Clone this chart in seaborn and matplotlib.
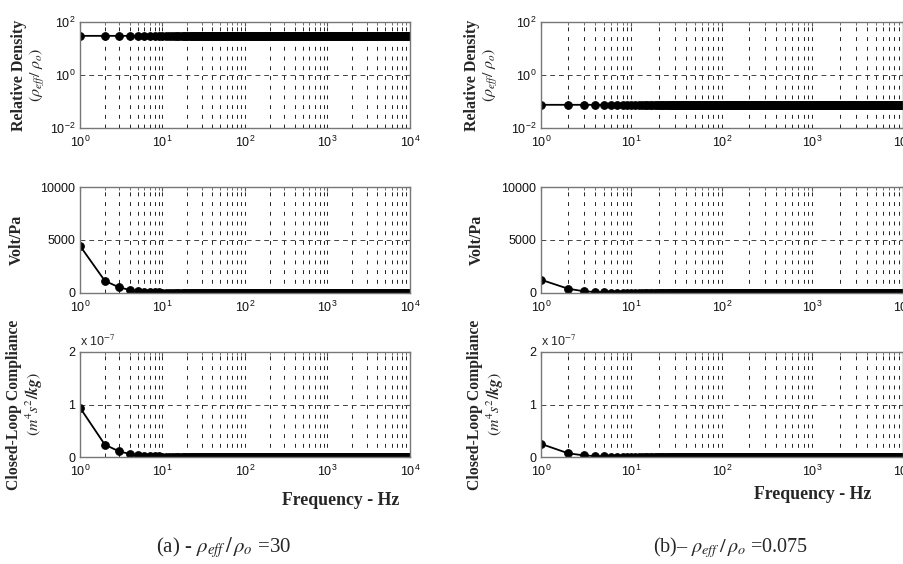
import numpy as np
import seaborn as sns
import matplotlib.pyplot as plt
from matplotlib.ticker import FixedLocator, NullLocator, NullFormatter, FuncFormatter, LogLocator

# frequency grid, 1 Hz steps
freq = np.arange(1, 10001)

# values read at f = 1..10 Hz; beyond that the curves sit on the floor
density_a = 30.0
density_b = 0.075
volt_a_head = [4450, 1150, 520, 300, 190, 130, 95, 70, 55, 45]
volt_b_head = [1250, 400, 160, 90, 55, 38, 28, 21, 17, 13]
comp_a_head = [0.94e-7, 0.235e-7, 0.105e-7, 0.06e-7, 0.038e-7,
               0.026e-7, 0.019e-7, 0.015e-7, 0.012e-7, 0.0094e-7]
comp_b_head = [0.25e-7, 0.07e-7, 0.03e-7, 0.016e-7, 0.01e-7,
               0.007e-7, 0.005e-7, 0.004e-7, 0.003e-7, 0.0025e-7]
tail_level = 0.0

captions = [r"(a) - $\rho_{eff}\,/\,\rho_{o}$ =30", r"(b)– $\rho_{eff}\,/\,\rho_{o}$ =0.075"]


def series(head, n):
    out = np.full(n, tail_level)
    out[:len(head)] = head
    return out


sns.set_style("white")
plt.rcParams['font.family'] = ['Liberation Sans Narrow', 'Liberation Sans', 'DejaVu Sans']
plt.rcParams['mathtext.fontset'] = 'stix'

W, H = 904, 564
fig = plt.figure(figsize=(W / 100, H / 100), dpi=100)

cols = [(80, 330), (541, 362)]
rows = [(22, 128), (187, 293), (352, 457)]

data = [
    [np.full(len(freq), density_a), series(volt_a_head, len(freq)), series(comp_a_head, len(freq))],
    [np.full(len(freq), density_b), series(volt_b_head, len(freq)), series(comp_b_head, len(freq))],
]

ylab_off = [[-33, -55, -36], [-41, -56, -36]]
serif = ['Liberation Serif', 'DejaVu Serif']

for c, (left, width) in enumerate(cols):
    for r, (top, bottom) in enumerate(rows):
        ax = fig.add_axes([left / W, 1 - bottom / H, width / W, (bottom - top) / H])
        sns.lineplot(x=freq, y=data[c][r], ax=ax, color='black', marker='o',
                     markersize=5.5, markeredgecolor='black', linewidth=1.3,
                     estimator=None, legend=False)
        ax.set_xscale('log')
        ax.set_xlim(1, 10000)
        ax.xaxis.set_major_locator(FixedLocator([1, 10, 100, 1000, 10000]))
        ax.xaxis.set_minor_locator(LogLocator(base=10, subs=range(2, 10)))
        ax.xaxis.set_minor_formatter(NullFormatter())
        ax.set_xlabel("")
        if r == 0:
            ax.set_yscale('log')
            ax.set_ylim(1e-2, 1e2)
            ax.yaxis.set_major_locator(FixedLocator([1e-2, 1, 1e2]))
            ax.yaxis.set_minor_locator(NullLocator())
            ax.set_ylabel("Relative Density\n" + r"$(\boldsymbol{\rho_{eff}}/\ \boldsymbol{\rho_o})$",
                          family=serif, fontsize=11.5, fontweight='bold', linespacing=1.05)
        elif r == 1:
            ax.set_ylim(0, 10000)
            ax.set_yticks([0, 5000, 10000])
            ax.set_ylabel("Volt/Pa", family=serif, fontsize=11.5, fontweight='bold')
        else:
            ax.set_ylim(0, 2e-7)
            ax.set_yticks([0, 1e-7, 2e-7])
            ax.yaxis.set_major_formatter(FuncFormatter(lambda v, p: "%d" % round(v / 1e-7)))
            ax.text(0.0, 1.03, r"x 10$^{-7}$", transform=ax.transAxes, fontsize=9,
                    ha='left', va='bottom')
            ax.set_ylabel("Closed-Loop Compliance\n" + r"$(\boldsymbol{m^4 s^2/kg})$",
                          family=serif, fontsize=11.3, fontweight='bold', linespacing=1.05)
            ax.set_xlabel("Frequency - Hz", family=serif, fontsize=12.8, fontweight='bold')
            if c == 0:
                ax.xaxis.set_label_coords(0.79, -0.33)
            else:
                ax.xaxis.set_label_coords(0.75, -0.28)
        ax.yaxis.set_label_coords(ylab_off[c][r] / width, 0.5)

        ax.grid(True, which='both', axis='x', linestyle=(0, (4, 6)), color='#222222', linewidth=0.7)
        ax.grid(True, which='major', axis='y', linestyle=(0, (5, 4)), color='#444444', linewidth=0.7)
        ax.tick_params(which='both', direction='in', top=True, right=True, labelsize=9,
                       length=3, color='#555555', labelcolor='#111111')
        ax.tick_params(axis='x', which='major', pad=5)
        ax.tick_params(which='minor', length=2)
        for s in ax.spines.values():
            s.set_color('#777777')
            s.set_linewidth(1.0)
        ax.set_axisbelow(True)

fig.text(224 / W, 1 - 548 / H, captions[0], family=serif, fontsize=15, ha='center', va='center')
fig.text(731 / W, 1 - 548 / H, captions[1], family=serif, fontsize=14.5, ha='center', va='center')

fig.savefig('out.png', dpi=100)
